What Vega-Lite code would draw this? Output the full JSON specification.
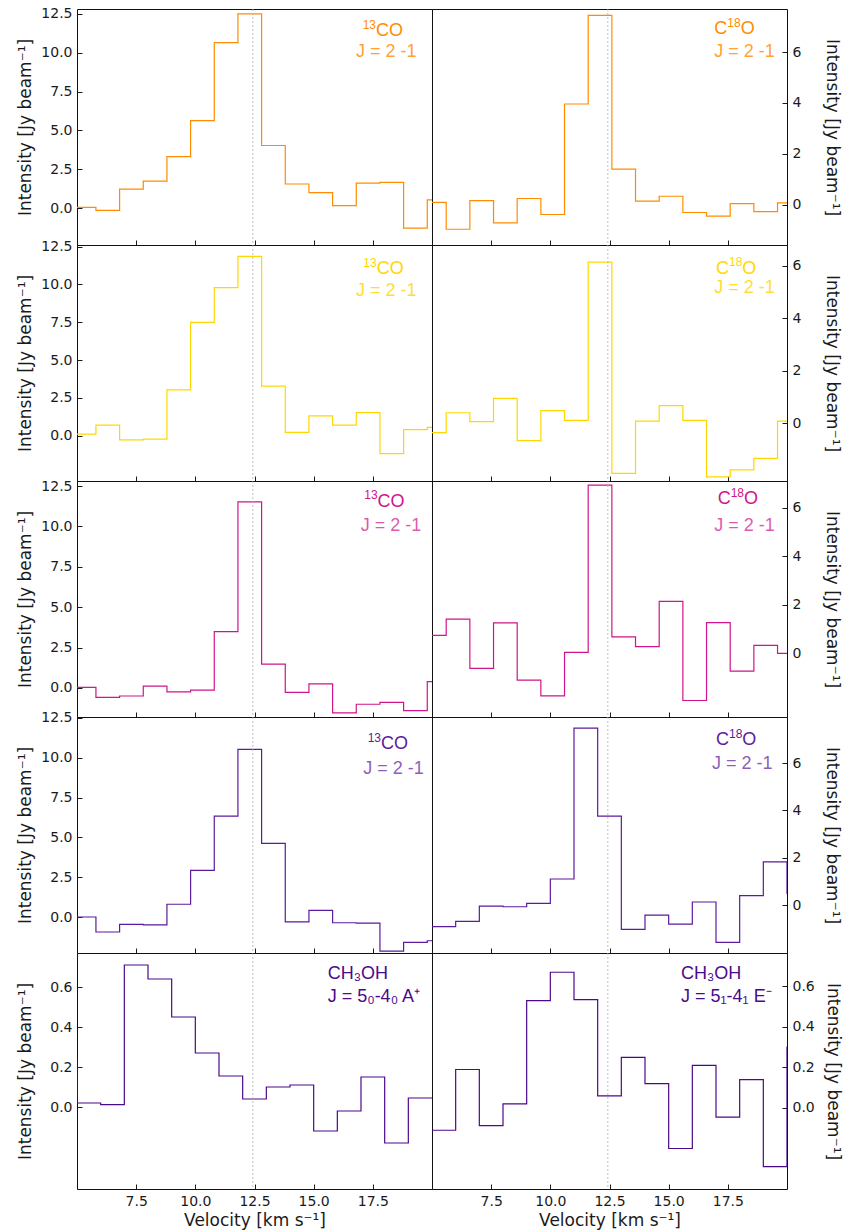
{
  "$schema": "https://vega.github.io/schema/vega-lite/v6.json",
  "padding": {"left": 16, "top": 6, "right": 5, "bottom": 5},
  "background": "white",
  "datasets": {
    "r1L": [{"v":4.3,"I":0.0},{"v":5.3,"I":0.04},{"v":6.3,"I":-0.15},{"v":7.3,"I":1.22},{"v":8.3,"I":1.74},{"v":9.3,"I":3.31},{"v":10.3,"I":5.63},{"v":11.3,"I":10.65},{"v":12.3,"I":12.5},{"v":13.3,"I":4.03},{"v":14.3,"I":1.55},{"v":15.3,"I":0.99},{"v":16.3,"I":0.15},{"v":17.3,"I":1.61},{"v":18.3,"I":1.65},{"v":19.3,"I":-1.29},{"v":20.3,"I":0.52}],
    "r1R": [{"v":4.1,"I":0.09},{"v":5.1,"I":0.09},{"v":6.1,"I":-0.97},{"v":7.1,"I":0.16},{"v":8.1,"I":-0.72},{"v":9.1,"I":0.24},{"v":10.1,"I":-0.39},{"v":11.1,"I":3.96},{"v":12.1,"I":7.45},{"v":13.1,"I":1.4},{"v":14.1,"I":0.14},{"v":15.1,"I":0.33},{"v":16.1,"I":-0.31},{"v":17.1,"I":-0.45},{"v":18.1,"I":0.04},{"v":19.1,"I":-0.28},{"v":20.1,"I":0.07}],
    "r2L": [{"v":4.3,"I":0.11},{"v":5.3,"I":0.11},{"v":6.3,"I":0.71},{"v":7.3,"I":-0.27},{"v":8.3,"I":-0.22},{"v":9.3,"I":3.04},{"v":10.3,"I":7.49},{"v":11.3,"I":9.79},{"v":12.3,"I":11.86},{"v":13.3,"I":3.28},{"v":14.3,"I":0.22},{"v":15.3,"I":1.31},{"v":16.3,"I":0.71},{"v":17.3,"I":1.53},{"v":18.3,"I":-1.18},{"v":19.3,"I":0.4},{"v":20.3,"I":0.55}],
    "r2R": [{"v":4.1,"I":-0.36},{"v":5.1,"I":-0.36},{"v":6.1,"I":0.4},{"v":7.1,"I":0.06},{"v":8.1,"I":0.95},{"v":9.1,"I":-0.66},{"v":10.1,"I":0.48},{"v":11.1,"I":0.11},{"v":12.1,"I":6.14},{"v":13.1,"I":-1.91},{"v":14.1,"I":0.08},{"v":15.1,"I":0.67},{"v":16.1,"I":0.11},{"v":17.1,"I":-2.04},{"v":18.1,"I":-1.78},{"v":19.1,"I":-1.34},{"v":20.1,"I":0.08}],
    "r3L": [{"v":4.3,"I":0.04},{"v":5.3,"I":0.04},{"v":6.3,"I":-0.58},{"v":7.3,"I":-0.5},{"v":8.3,"I":0.11},{"v":9.3,"I":-0.25},{"v":10.3,"I":-0.14},{"v":11.3,"I":3.48},{"v":12.3,"I":11.52},{"v":13.3,"I":1.47},{"v":14.3,"I":-0.27},{"v":15.3,"I":0.25},{"v":16.3,"I":-1.55},{"v":17.3,"I":-1.01},{"v":18.3,"I":-0.89},{"v":19.3,"I":-1.41},{"v":20.3,"I":0.39}],
    "r3R": [{"v":4.1,"I":0.74},{"v":5.1,"I":0.74},{"v":6.1,"I":1.41},{"v":7.1,"I":-0.62},{"v":8.1,"I":1.26},{"v":9.1,"I":-1.1},{"v":10.1,"I":-1.75},{"v":11.1,"I":0.04},{"v":12.1,"I":6.93},{"v":13.1,"I":0.68},{"v":14.1,"I":0.28},{"v":15.1,"I":2.14},{"v":16.1,"I":-1.94},{"v":17.1,"I":1.27},{"v":18.1,"I":-0.73},{"v":19.1,"I":0.33},{"v":20.1,"I":0.0}],
    "r4L": [{"v":4.3,"I":0.0},{"v":5.3,"I":0.0},{"v":6.3,"I":-0.94},{"v":7.3,"I":-0.46},{"v":8.3,"I":-0.5},{"v":9.3,"I":0.8},{"v":10.3,"I":2.93},{"v":11.3,"I":6.34},{"v":12.3,"I":10.53},{"v":13.3,"I":4.63},{"v":14.3,"I":-0.31},{"v":15.3,"I":0.42},{"v":16.3,"I":-0.36},{"v":17.3,"I":-0.38},{"v":18.3,"I":-2.14},{"v":19.3,"I":-1.59},{"v":20.3,"I":-1.49}],
    "r4R": [{"v":4.5,"I":-0.9},{"v":5.5,"I":-0.9},{"v":6.5,"I":-0.68},{"v":7.5,"I":-0.03},{"v":8.5,"I":-0.06},{"v":9.5,"I":0.08},{"v":10.5,"I":1.11},{"v":11.5,"I":7.47},{"v":12.5,"I":3.76},{"v":13.5,"I":-1.01},{"v":14.5,"I":-0.41},{"v":15.5,"I":-0.79},{"v":16.5,"I":0.14},{"v":17.5,"I":-1.56},{"v":18.5,"I":0.41},{"v":19.5,"I":1.83},{"v":20.5,"I":0.5}],
    "r5L": [{"v":4.5,"I":0.24},{"v":5.5,"I":0.02},{"v":6.5,"I":0.012},{"v":7.5,"I":0.71},{"v":8.5,"I":0.64},{"v":9.5,"I":0.45},{"v":10.5,"I":0.27},{"v":11.5,"I":0.155},{"v":12.5,"I":0.04},{"v":13.5,"I":0.1},{"v":14.5,"I":0.11},{"v":15.5,"I":-0.12},{"v":16.5,"I":-0.02},{"v":17.5,"I":0.15},{"v":18.5,"I":-0.18},{"v":19.5,"I":0.045},{"v":20.5,"I":0.045}],
    "r5R": [{"v":4.5,"I":-0.11},{"v":5.5,"I":-0.11},{"v":6.5,"I":0.19},{"v":7.5,"I":-0.087},{"v":8.5,"I":0.02},{"v":9.5,"I":0.53},{"v":10.5,"I":0.67},{"v":11.5,"I":0.535},{"v":12.5,"I":0.06},{"v":13.5,"I":0.25},{"v":14.5,"I":0.12},{"v":15.5,"I":-0.2},{"v":16.5,"I":0.21},{"v":17.5,"I":-0.045},{"v":18.5,"I":0.14},{"v":19.5,"I":-0.29},{"v":20.5,"I":0.3}]
  },
  "columns": 2,
  "spacing": 0,
  "bounds": "flush",
  "concat": [
    {"width": 355, "height": 236, "layer": [
      {"data": {"name": "r1L"}, "mark": {"type": "line", "interpolate": "step", "clip": true, "color": "#ff8c00", "strokeWidth": 1.2},
       "encoding": {
         "x": {"field": "v", "type": "quantitative", "scale": {"domain": [5, 20], "nice": false, "zero": false}, "axis": {"values": [7.5, 10, 12.5, 15, 17.5], "labels": false, "title": null}},
         "y": {"field": "I", "type": "quantitative", "scale": {"domain": [-2.38, 12.82], "nice": false, "zero": false}, "axis": {"values": [0, 2.5, 5, 7.5, 10, 12.5], "format": ".1f", "title": "Intensity [Jy beam⁻¹]", "titlePadding": 6}}}},
      {"data": {"values": [{}]}, "mark": {"type": "rule", "color": "#b0b0b0", "strokeDash": [2, 2], "strokeWidth": 0.8}, "encoding": {"x": {"datum": 12.43}}},
      {"data": {"values": [{}]}, "mark": {"type": "text", "text": "13", "font": "Liberation Sans", "fontSize": 12, "dy": -6.5, "color": "#ff8c00", "align": "left", "baseline": "middle"}, "encoding": {"x": {"datum": 17.07}, "y": {"datum": 11.4}}},
      {"data": {"values": [{}]}, "mark": {"type": "text", "text": "CO", "font": "Liberation Sans", "fontSize": 18, "dx": 13.3, "color": "#ff8c00", "align": "left", "baseline": "middle"}, "encoding": {"x": {"datum": 17.07}, "y": {"datum": 11.4}}},
      {"data": {"values": [{}]}, "mark": {"type": "text", "text": "J = 2 -1", "font": "Liberation Sans", "fontSize": 18, "color": "#ff8c00", "opacity": 0.8, "align": "center", "baseline": "middle"}, "encoding": {"x": {"datum": 18.07}, "y": {"datum": 10.05}}}
    ]},
    {"width": 355, "height": 236, "layer": [
      {"data": {"name": "r1R"}, "mark": {"type": "line", "interpolate": "step", "clip": true, "color": "#ff8c00", "strokeWidth": 1.2},
       "encoding": {
         "x": {"field": "v", "type": "quantitative", "scale": {"domain": [5, 20], "nice": false, "zero": false}, "axis": {"values": [7.5, 10, 12.5, 15, 17.5], "labels": false, "title": null}},
         "y": {"field": "I", "type": "quantitative", "scale": {"domain": [-1.59, 7.7], "nice": false, "zero": false}, "axis": {"orient": "right", "values": [0, 2, 4, 6], "format": "d", "title": "Intensity [Jy beam⁻¹]", "titlePadding": 22}}}},
      {"data": {"values": [{}]}, "mark": {"type": "rule", "color": "#b0b0b0", "strokeDash": [2, 2], "strokeWidth": 0.8}, "encoding": {"x": {"datum": 12.43}}},
      {"data": {"values": [{}]}, "mark": {"type": "text", "text": "C", "font": "Liberation Sans", "fontSize": 18, "color": "#ff8c00", "align": "left", "baseline": "middle"}, "encoding": {"x": {"datum": 16.93}, "y": {"datum": 6.91}}},
      {"data": {"values": [{}]}, "mark": {"type": "text", "text": "18", "font": "Liberation Sans", "fontSize": 12, "dx": 13, "dy": -6.5, "color": "#ff8c00", "align": "left", "baseline": "middle"}, "encoding": {"x": {"datum": 16.93}, "y": {"datum": 6.91}}},
      {"data": {"values": [{}]}, "mark": {"type": "text", "text": "O", "font": "Liberation Sans", "fontSize": 18, "dx": 26.3, "color": "#ff8c00", "align": "left", "baseline": "middle"}, "encoding": {"x": {"datum": 16.93}, "y": {"datum": 6.91}}},
      {"data": {"values": [{}]}, "mark": {"type": "text", "text": "J = 2 -1", "font": "Liberation Sans", "fontSize": 18, "color": "#ff8c00", "opacity": 0.8, "align": "left", "baseline": "middle"}, "encoding": {"x": {"datum": 16.93}, "y": {"datum": 6.01}}}
    ]},
    {"width": 355, "height": 236, "layer": [
      {"data": {"name": "r2L"}, "mark": {"type": "line", "interpolate": "step", "clip": true, "color": "#ffd700", "strokeWidth": 1.2},
       "encoding": {
         "x": {"field": "v", "type": "quantitative", "scale": {"domain": [5, 20], "nice": false, "zero": false}, "axis": {"values": [7.5, 10, 12.5, 15, 17.5], "labels": false, "title": null}},
         "y": {"field": "I", "type": "quantitative", "scale": {"domain": [-2.99, 12.61], "nice": false, "zero": false}, "axis": {"values": [0, 2.5, 5, 7.5, 10, 12.5], "format": ".1f", "title": "Intensity [Jy beam⁻¹]", "titlePadding": 6}}}},
      {"data": {"values": [{}]}, "mark": {"type": "rule", "color": "#b0b0b0", "strokeDash": [2, 2], "strokeWidth": 0.8}, "encoding": {"x": {"datum": 12.43}}},
      {"data": {"values": [{}]}, "mark": {"type": "text", "text": "13", "font": "Liberation Sans", "fontSize": 12, "dy": -6.5, "color": "#ffd700", "align": "left", "baseline": "middle"}, "encoding": {"x": {"datum": 17.1}, "y": {"datum": 11.02}}},
      {"data": {"values": [{}]}, "mark": {"type": "text", "text": "CO", "font": "Liberation Sans", "fontSize": 18, "dx": 13.3, "color": "#ffd700", "align": "left", "baseline": "middle"}, "encoding": {"x": {"datum": 17.1}, "y": {"datum": 11.02}}},
      {"data": {"values": [{}]}, "mark": {"type": "text", "text": "J = 2 -1", "font": "Liberation Sans", "fontSize": 18, "color": "#ffd700", "opacity": 0.8, "align": "center", "baseline": "middle"}, "encoding": {"x": {"datum": 18.07}, "y": {"datum": 9.57}}}
    ]},
    {"width": 355, "height": 236, "layer": [
      {"data": {"name": "r2R"}, "mark": {"type": "line", "interpolate": "step", "clip": true, "color": "#ffd700", "strokeWidth": 1.2},
       "encoding": {
         "x": {"field": "v", "type": "quantitative", "scale": {"domain": [5, 20], "nice": false, "zero": false}, "axis": {"values": [7.5, 10, 12.5, 15, 17.5], "labels": false, "title": null}},
         "y": {"field": "I", "type": "quantitative", "scale": {"domain": [-2.2, 6.79], "nice": false, "zero": false}, "axis": {"orient": "right", "values": [0, 2, 4, 6], "format": "d", "title": "Intensity [Jy beam⁻¹]", "titlePadding": 22}}}},
      {"data": {"values": [{}]}, "mark": {"type": "rule", "color": "#b0b0b0", "strokeDash": [2, 2], "strokeWidth": 0.8}, "encoding": {"x": {"datum": 12.43}}},
      {"data": {"values": [{}]}, "mark": {"type": "text", "text": "C", "font": "Liberation Sans", "fontSize": 18, "color": "#ffd700", "align": "left", "baseline": "middle"}, "encoding": {"x": {"datum": 17.0}, "y": {"datum": 5.88}}},
      {"data": {"values": [{}]}, "mark": {"type": "text", "text": "18", "font": "Liberation Sans", "fontSize": 12, "dx": 13, "dy": -6.5, "color": "#ffd700", "align": "left", "baseline": "middle"}, "encoding": {"x": {"datum": 17.0}, "y": {"datum": 5.88}}},
      {"data": {"values": [{}]}, "mark": {"type": "text", "text": "O", "font": "Liberation Sans", "fontSize": 18, "dx": 26.3, "color": "#ffd700", "align": "left", "baseline": "middle"}, "encoding": {"x": {"datum": 17.0}, "y": {"datum": 5.88}}},
      {"data": {"values": [{}]}, "mark": {"type": "text", "text": "J = 2 -1", "font": "Liberation Sans", "fontSize": 18, "color": "#ffd700", "opacity": 0.8, "align": "left", "baseline": "middle"}, "encoding": {"x": {"datum": 16.93}, "y": {"datum": 5.17}}}
    ]},
    {"width": 355, "height": 236, "layer": [
      {"data": {"name": "r3L"}, "mark": {"type": "line", "interpolate": "step", "clip": true, "color": "#d0148c", "strokeWidth": 1.2},
       "encoding": {
         "x": {"field": "v", "type": "quantitative", "scale": {"domain": [5, 20], "nice": false, "zero": false}, "axis": {"values": [7.5, 10, 12.5, 15, 17.5], "labels": false, "title": null}},
         "y": {"field": "I", "type": "quantitative", "scale": {"domain": [-1.8, 12.81], "nice": false, "zero": false}, "axis": {"values": [0, 2.5, 5, 7.5, 10, 12.5], "format": ".1f", "title": "Intensity [Jy beam⁻¹]", "titlePadding": 6}}}},
      {"data": {"values": [{}]}, "mark": {"type": "rule", "color": "#b0b0b0", "strokeDash": [2, 2], "strokeWidth": 0.8}, "encoding": {"x": {"datum": 12.43}}},
      {"data": {"values": [{}]}, "mark": {"type": "text", "text": "13", "font": "Liberation Sans", "fontSize": 12, "dy": -6.5, "color": "#d0148c", "align": "left", "baseline": "middle"}, "encoding": {"x": {"datum": 17.14}, "y": {"datum": 11.53}}},
      {"data": {"values": [{}]}, "mark": {"type": "text", "text": "CO", "font": "Liberation Sans", "fontSize": 18, "dx": 13.3, "color": "#d0148c", "align": "left", "baseline": "middle"}, "encoding": {"x": {"datum": 17.14}, "y": {"datum": 11.53}}},
      {"data": {"values": [{}]}, "mark": {"type": "text", "text": "J = 2 -1", "font": "Liberation Sans", "fontSize": 18, "color": "#d0148c", "opacity": 0.7, "align": "center", "baseline": "middle"}, "encoding": {"x": {"datum": 18.27}, "y": {"datum": 10.02}}}
    ]},
    {"width": 355, "height": 236, "layer": [
      {"data": {"name": "r3R"}, "mark": {"type": "line", "interpolate": "step", "clip": true, "color": "#d0148c", "strokeWidth": 1.2},
       "encoding": {
         "x": {"field": "v", "type": "quantitative", "scale": {"domain": [5, 20], "nice": false, "zero": false}, "axis": {"values": [7.5, 10, 12.5, 15, 17.5], "labels": false, "title": null}},
         "y": {"field": "I", "type": "quantitative", "scale": {"domain": [-2.62, 7.1], "nice": false, "zero": false}, "axis": {"orient": "right", "values": [0, 2, 4, 6], "format": "d", "title": "Intensity [Jy beam⁻¹]", "titlePadding": 22}}}},
      {"data": {"values": [{}]}, "mark": {"type": "rule", "color": "#b0b0b0", "strokeDash": [2, 2], "strokeWidth": 0.8}, "encoding": {"x": {"datum": 12.43}}},
      {"data": {"values": [{}]}, "mark": {"type": "text", "text": "C", "font": "Liberation Sans", "fontSize": 18, "color": "#d0148c", "align": "left", "baseline": "middle"}, "encoding": {"x": {"datum": 17.07}, "y": {"datum": 6.35}}},
      {"data": {"values": [{}]}, "mark": {"type": "text", "text": "18", "font": "Liberation Sans", "fontSize": 12, "dx": 13, "dy": -6.5, "color": "#d0148c", "align": "left", "baseline": "middle"}, "encoding": {"x": {"datum": 17.07}, "y": {"datum": 6.35}}},
      {"data": {"values": [{}]}, "mark": {"type": "text", "text": "O", "font": "Liberation Sans", "fontSize": 18, "dx": 26.3, "color": "#d0148c", "align": "left", "baseline": "middle"}, "encoding": {"x": {"datum": 17.07}, "y": {"datum": 6.35}}},
      {"data": {"values": [{}]}, "mark": {"type": "text", "text": "J = 2 -1", "font": "Liberation Sans", "fontSize": 18, "color": "#d0148c", "opacity": 0.7, "align": "left", "baseline": "middle"}, "encoding": {"x": {"datum": 16.93}, "y": {"datum": 5.25}}}
    ]},
    {"width": 355, "height": 236, "layer": [
      {"data": {"name": "r4L"}, "mark": {"type": "line", "interpolate": "step", "clip": true, "color": "#5c1a9c", "strokeWidth": 1.2},
       "encoding": {
         "x": {"field": "v", "type": "quantitative", "scale": {"domain": [5, 20], "nice": false, "zero": false}, "axis": {"values": [7.5, 10, 12.5, 15, 17.5], "labels": false, "title": null}},
         "y": {"field": "I", "type": "quantitative", "scale": {"domain": [-2.26, 12.56], "nice": false, "zero": false}, "axis": {"values": [0, 2.5, 5, 7.5, 10, 12.5], "format": ".1f", "title": "Intensity [Jy beam⁻¹]", "titlePadding": 6}}}},
      {"data": {"values": [{}]}, "mark": {"type": "rule", "color": "#b0b0b0", "strokeDash": [2, 2], "strokeWidth": 0.8}, "encoding": {"x": {"datum": 12.43}}},
      {"data": {"values": [{}]}, "mark": {"type": "text", "text": "13", "font": "Liberation Sans", "fontSize": 12, "dy": -6.5, "color": "#5c1a9c", "align": "left", "baseline": "middle"}, "encoding": {"x": {"datum": 17.28}, "y": {"datum": 10.85}}},
      {"data": {"values": [{}]}, "mark": {"type": "text", "text": "CO", "font": "Liberation Sans", "fontSize": 18, "dx": 13.3, "color": "#5c1a9c", "align": "left", "baseline": "middle"}, "encoding": {"x": {"datum": 17.28}, "y": {"datum": 10.85}}},
      {"data": {"values": [{}]}, "mark": {"type": "text", "text": "J = 2 -1", "font": "Liberation Sans", "fontSize": 18, "color": "#5c1a9c", "opacity": 0.7, "align": "center", "baseline": "middle"}, "encoding": {"x": {"datum": 18.37}, "y": {"datum": 9.31}}}
    ]},
    {"width": 355, "height": 236, "layer": [
      {"data": {"name": "r4R"}, "mark": {"type": "line", "interpolate": "step", "clip": true, "color": "#5c1a9c", "strokeWidth": 1.2},
       "encoding": {
         "x": {"field": "v", "type": "quantitative", "scale": {"domain": [5, 20], "nice": false, "zero": false}, "axis": {"values": [7.5, 10, 12.5, 15, 17.5], "labels": false, "title": null}},
         "y": {"field": "I", "type": "quantitative", "scale": {"domain": [-2.01, 7.94], "nice": false, "zero": false}, "axis": {"orient": "right", "values": [0, 2, 4, 6], "format": "d", "title": "Intensity [Jy beam⁻¹]", "titlePadding": 22}}}},
      {"data": {"values": [{}]}, "mark": {"type": "rule", "color": "#b0b0b0", "strokeDash": [2, 2], "strokeWidth": 0.8}, "encoding": {"x": {"datum": 12.43}}},
      {"data": {"values": [{}]}, "mark": {"type": "text", "text": "C", "font": "Liberation Sans", "fontSize": 18, "color": "#5c1a9c", "align": "left", "baseline": "middle"}, "encoding": {"x": {"datum": 17.0}, "y": {"datum": 6.96}}},
      {"data": {"values": [{}]}, "mark": {"type": "text", "text": "18", "font": "Liberation Sans", "fontSize": 12, "dx": 13, "dy": -6.5, "color": "#5c1a9c", "align": "left", "baseline": "middle"}, "encoding": {"x": {"datum": 17.0}, "y": {"datum": 6.96}}},
      {"data": {"values": [{}]}, "mark": {"type": "text", "text": "O", "font": "Liberation Sans", "fontSize": 18, "dx": 26.3, "color": "#5c1a9c", "align": "left", "baseline": "middle"}, "encoding": {"x": {"datum": 17.0}, "y": {"datum": 6.96}}},
      {"data": {"values": [{}]}, "mark": {"type": "text", "text": "J = 2 -1", "font": "Liberation Sans", "fontSize": 18, "color": "#5c1a9c", "opacity": 0.7, "align": "left", "baseline": "middle"}, "encoding": {"x": {"datum": 16.83}, "y": {"datum": 5.97}}}
    ]},
    {"width": 355, "height": 236, "layer": [
      {"data": {"name": "r5L"}, "mark": {"type": "line", "interpolate": "step", "clip": true, "color": "#4b0a8a", "strokeWidth": 1.2},
       "encoding": {
         "x": {"field": "v", "type": "quantitative", "scale": {"domain": [5, 20], "nice": false, "zero": false}, "axis": {"values": [7.5, 10, 12.5, 15, 17.5], "format": ".1f", "title": "Velocity [km s⁻¹]", "titlePadding": 4}},
         "y": {"field": "I", "type": "quantitative", "scale": {"domain": [-0.41, 0.77], "nice": false, "zero": false}, "axis": {"values": [0, 0.2, 0.4, 0.6], "format": ".1f", "title": "Intensity [Jy beam⁻¹]", "titlePadding": 15}}}},
      {"data": {"values": [{}]}, "mark": {"type": "rule", "color": "#b0b0b0", "strokeDash": [2, 2], "strokeWidth": 0.8}, "encoding": {"x": {"datum": 12.43}}},
      {"data": {"values": [{}]}, "mark": {"type": "text", "text": "CH₃OH", "font": "Liberation Sans", "fontSize": 18, "color": "#4b0a8a", "align": "left", "baseline": "middle"}, "encoding": {"x": {"datum": 15.59}, "y": {"datum": 0.663}}},
      {"data": {"values": [{}]}, "mark": {"type": "text", "text": "J = 5₀-4₀  A⁺", "font": "Liberation Sans", "fontSize": 18, "color": "#4b0a8a", "align": "left", "baseline": "middle"}, "encoding": {"x": {"datum": 15.59}, "y": {"datum": 0.55}}}
    ]},
    {"width": 355, "height": 236, "layer": [
      {"data": {"name": "r5R"}, "mark": {"type": "line", "interpolate": "step", "clip": true, "color": "#4b0a8a", "strokeWidth": 1.2},
       "encoding": {
         "x": {"field": "v", "type": "quantitative", "scale": {"domain": [5, 20], "nice": false, "zero": false}, "axis": {"values": [7.5, 10, 12.5, 15, 17.5], "format": ".1f", "title": "Velocity [km s⁻¹]", "titlePadding": 4}},
         "y": {"field": "I", "type": "quantitative", "scale": {"domain": [-0.4, 0.765], "nice": false, "zero": false}, "axis": {"orient": "right", "values": [0, 0.2, 0.4, 0.6], "format": ".1f", "title": "Intensity [Jy beam⁻¹]", "titlePadding": 9}}}},
      {"data": {"values": [{}]}, "mark": {"type": "rule", "color": "#b0b0b0", "strokeDash": [2, 2], "strokeWidth": 0.8}, "encoding": {"x": {"datum": 12.43}}},
      {"data": {"values": [{}]}, "mark": {"type": "text", "text": "CH₃OH", "font": "Liberation Sans", "fontSize": 18, "color": "#4b0a8a", "align": "left", "baseline": "middle"}, "encoding": {"x": {"datum": 15.52}, "y": {"datum": 0.663}}},
      {"data": {"values": [{}]}, "mark": {"type": "text", "text": "J = 5₁-4₁ E⁻", "font": "Liberation Sans", "fontSize": 18, "color": "#4b0a8a", "align": "left", "baseline": "middle"}, "encoding": {"x": {"datum": 15.52}, "y": {"datum": 0.548}}}
    ]}
  ],
  "config": {
    "view": {"stroke": "#111111", "strokeWidth": 1},
    "axis": {
      "labelFont": "DejaVu Sans", "labelFontSize": 14, "labelColor": "#1a1a1a",
      "titleFont": "DejaVu Sans", "titleFontSize": 17, "titleFontWeight": "normal", "titleColor": "#1a1a1a",
      "tickColor": "#1a1a1a", "tickSize": -5, "tickWidth": 1, "labelPadding": 10,
      "grid": false, "domain": false
    }
  }
}
